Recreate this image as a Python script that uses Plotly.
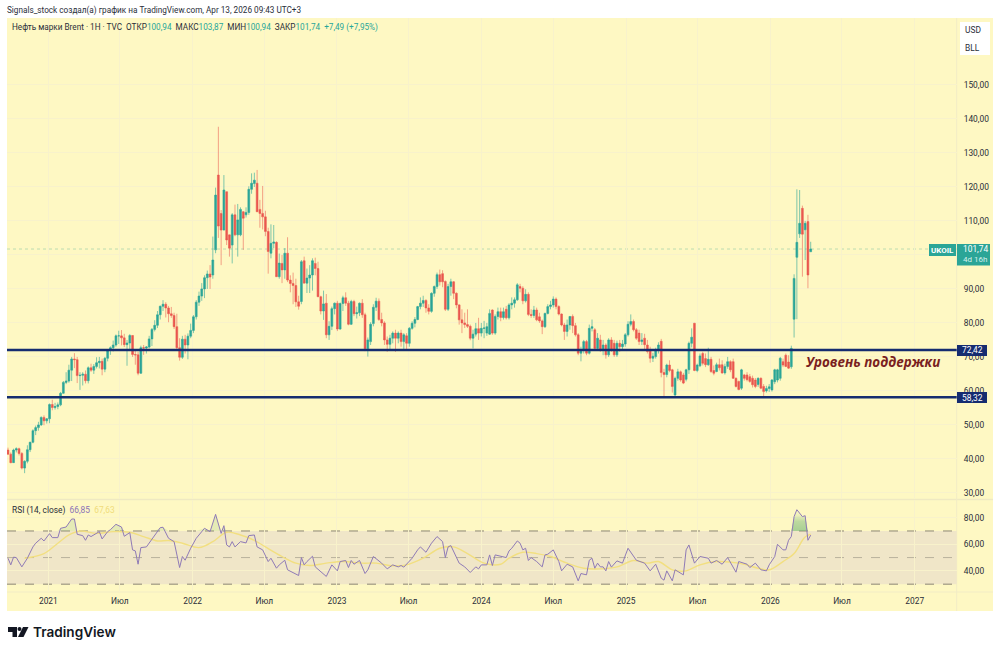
import pandas as pd
import plotly.graph_objects as go

opens = [
42.6,41.4,38.9,42.6,43.0,41.6,37.3,39.3,42.7,44.9,
48.3,49.2,50.0,52.2,51.2,51.8,56.0,55.1,55.4,55.9,
59.3,62.5,62.9,66.1,69.4,69.2,64.5,64.6,64.9,63.0,
66.8,66.1,67.2,68.3,68.7,66.4,69.6,71.9,72.7,73.5,
76.2,76.2,75.6,73.6,74.1,76.3,70.7,70.6,65.2,72.7,
72.6,72.9,75.3,78.1,79.3,82.4,84.9,85.5,84.4,82.7,
82.2,78.9,72.7,69.9,75.2,73.5,76.1,77.8,81.8,86.1,
87.9,90.0,93.3,94.4,94.1,101.5,123.5,112.2,107.3,118.6,
105.9,102.9,111.8,105.9,105.9,112.7,111.8,112.5,119.3,121.0,
121.1,113.4,112.2,111.2,106.9,100.5,103.4,103.7,93.6,97.5,
95.6,100.5,92.6,91.6,91.0,86.2,86.3,98.3,91.7,93.2,
94.1,97.5,96.0,87.7,83.5,85.8,76.5,79.0,84.2,85.8,
78.2,85.7,87.4,85.8,79.6,86.3,82.7,83.0,85.8,82.4,
72.4,74.5,79.8,84.6,86.4,81.0,80.0,75.0,73.7,75.5,
77.0,75.5,77.0,74.5,76.2,74.0,78.4,79.9,81.0,84.8,
85.8,86.6,84.4,83.4,88.7,90.7,94.2,94.5,92.2,84.0,
90.7,92.1,88.7,85.3,80.9,80.0,79.5,79.0,75.5,76.7,
78.3,77.0,78.4,77.0,76.7,83.8,77.0,81.9,83.3,81.6,
84.0,81.5,85.3,85.8,86.8,90.7,90.2,86.5,88.4,82.5,
82.2,83.8,81.8,80.6,78.9,82.8,84.8,85.3,87.0,84.8,
82.6,79.4,77.5,79.4,81.9,79.2,76.5,71.1,72.0,74.5,
71.1,78.4,78.0,72.5,75.0,72.1,73.5,70.6,75.0,74.0,
70.6,74.0,73.0,73.8,76.5,79.6,80.4,78.0,77.0,74.5,
75.5,73.5,72.0,69.6,70.1,72.0,74.6,65.4,64.8,67.6,
66.2,58.8,63.7,65.6,64.7,63.4,66.2,74.0,79.9,66.0,
67.4,71.0,69.5,67.7,69.3,66.0,65.7,67.7,67.7,65.3,
67.2,68.6,68.6,63.7,62.8,60.8,64.7,64.7,64.2,63.7,
63.2,61.9,63.7,61.3,60.0,60.7,60.3,62.7,63.2,63.7,
68.6,70.5,68.5,67.1,81.1,99.3,106.2,113.7,107.4,109.8,
100.94,
]
highs = [
43.3,41.9,43.0,43.4,43.3,42.0,39.6,44.0,45.0,48.7,
49.8,50.9,52.5,52.8,52.0,56.3,57.4,56.5,56.6,59.7,
62.9,65.5,67.7,70.0,71.1,70.0,65.5,65.5,66.0,67.2,
68.0,67.9,69.9,70.0,69.5,70.0,72.1,73.1,74.8,76.6,
77.7,77.9,76.8,75.0,76.7,76.4,72.0,71.5,73.3,73.5,
73.2,76.2,78.5,80.8,83.5,85.1,86.7,86.1,85.0,84.7,
83.0,82.7,75.5,76.2,76.5,76.9,79.8,82.3,86.7,89.2,
91.7,94.0,95.4,97.0,105.4,119.8,137.7,113.2,123.5,118.6,
105.5,112.3,114.8,115.0,114.0,112.9,114.0,120.2,124.0,124.2,
125.0,116.2,120.3,113.0,108.0,109.0,108.8,104.0,100.4,100.0,
102.0,105.2,94.0,94.8,93.0,88.0,98.5,99.5,96.0,97.0,
99.0,99.2,98.0,88.0,89.5,88.5,80.5,84.8,86.0,86.5,
86.0,88.0,89.0,86.5,86.8,86.8,84.8,86.0,87.0,83.0,
75.7,80.2,85.5,87.4,87.2,83.0,80.5,76.0,76.5,77.5,
78.0,77.5,78.0,77.0,77.0,78.8,80.5,81.7,85.0,87.5,
88.0,87.0,85.5,89.0,91.0,94.8,95.7,95.5,92.5,91.5,
93.0,92.3,89.0,85.5,84.0,83.0,84.0,79.5,78.0,80.0,
81.5,80.0,80.6,80.0,84.0,84.0,82.5,84.5,84.5,84.5,
85.0,85.8,87.5,87.5,91.7,91.5,90.8,89.9,89.0,84.0,
85.0,84.5,83.0,81.0,83.0,85.5,86.5,87.8,87.5,85.2,
82.8,80.0,81.0,82.0,82.5,80.0,77.0,73.0,75.0,75.0,
79.5,81.0,78.5,77.0,76.5,75.0,74.0,75.5,75.8,75.0,
74.8,75.0,75.0,77.0,80.5,82.5,81.0,78.5,78.0,77.0,
76.8,75.0,73.0,71.2,72.7,74.3,75.3,66.5,68.0,69.0,
66.5,64.2,66.5,66.0,65.3,66.5,74.5,78.4,80.0,68.0,
71.0,71.5,71.0,72.7,70.0,67.5,68.3,69.5,69.0,68.0,
70.0,69.0,69.5,64.0,63.0,66.5,65.0,65.5,65.0,64.5,
63.8,64.0,64.0,62.0,61.5,62.0,63.5,66.5,66.5,70.0,
69.5,71.0,70.5,73.3,94.3,119.3,119.1,114.5,110.0,111.8,
103.87,
]
lows = [
41.2,38.7,38.9,41.9,41.0,36.9,35.8,38.7,42.0,44.6,
47.0,48.3,49.7,49.9,50.4,50.5,54.3,54.5,54.6,55.5,
59.2,62.0,62.4,62.9,66.7,62.3,60.3,61.6,62.2,62.2,
65.6,65.0,66.6,66.6,64.6,65.5,68.7,70.6,71.6,73.0,
73.8,73.4,72.9,67.4,72.0,70.0,67.7,64.6,65.0,70.6,
71.0,72.5,73.2,77.5,78.5,81.0,83.5,81.6,80.2,81.5,
78.2,72.0,68.9,69.4,71.0,69.3,75.5,77.0,81.0,85.0,
86.5,87.3,90.0,90.0,93.0,100.5,105.0,97.0,107.3,102.9,
99.5,97.5,105.5,99.5,105.5,101.5,111.0,111.8,118.0,120.0,
112.7,108.0,107.5,105.5,94.5,99.0,102.0,93.5,93.0,91.7,
93.0,92.0,89.0,85.5,84.7,83.9,85.5,91.7,88.8,88.8,
89.5,94.0,87.7,82.5,80.9,75.5,75.0,77.9,82.5,77.6,
78.0,83.5,85.0,79.3,79.4,82.0,81.3,82.0,81.5,71.7,
70.1,73.5,79.0,83.5,80.6,79.0,73.5,71.5,72.0,74.0,
71.5,74.0,73.0,72.0,72.0,73.0,78.0,78.7,80.8,84.0,
84.7,83.0,82.5,83.0,87.7,90.0,91.0,90.5,83.5,83.5,
88.0,87.0,84.3,79.5,77.0,78.5,78.5,74.9,72.5,76.0,
75.0,76.0,75.5,76.2,76.5,76.5,76.5,81.0,80.5,81.0,
81.0,81.0,84.0,84.5,86.5,89.0,85.5,86.0,82.0,81.5,
81.5,80.5,80.0,76.7,78.5,82.5,84.0,84.5,84.0,82.2,
79.0,75.0,76.0,78.0,77.0,76.0,70.5,68.7,71.0,70.5,
70.7,77.5,72.0,72.0,71.5,70.5,69.5,70.0,71.5,70.0,
70.0,71.5,72.0,73.0,76.0,79.0,77.5,75.0,73.5,73.5,
72.0,71.0,68.3,68.5,69.5,71.0,64.0,58.3,64.0,65.5,
59.5,58.3,63.0,62.7,62.0,62.8,65.0,72.8,65.8,65.5,
67.0,67.5,67.0,67.4,65.3,64.6,65.5,66.0,65.0,64.8,
66.5,65.5,63.5,61.0,60.2,60.3,63.0,62.8,62.4,61.0,
60.8,61.2,60.5,58.3,59.5,59.7,59.8,62.0,62.5,63.0,
67.0,67.0,66.5,66.5,75.7,81.1,105.0,93.6,98.5,90.2,
100.94,
]
closes = [
41.4,38.9,42.6,43.0,41.6,37.3,39.3,42.7,44.9,48.3,
49.2,50.0,52.2,51.2,51.8,56.0,55.1,55.4,55.9,59.3,
62.5,62.9,66.1,69.4,69.2,64.5,64.6,64.9,63.0,66.8,
66.1,67.2,68.3,68.7,66.4,69.6,71.9,72.7,73.5,76.2,
76.2,75.6,73.6,74.1,76.3,70.7,70.6,65.2,72.7,72.6,
72.9,75.3,78.1,79.3,82.4,84.9,85.5,84.4,82.7,82.2,
78.9,72.7,69.9,75.2,73.5,76.1,77.8,81.8,86.1,87.9,
90.0,93.3,94.4,93.5,98.5,117.6,108.5,107.3,119.1,104.4,
102.0,111.8,105.9,110.3,113.4,110.8,112.5,119.3,121.1,122.0,
112.7,112.2,111.2,106.9,101.0,103.4,103.8,93.6,97.6,95.6,
100.5,92.6,91.6,91.0,86.2,84.9,98.0,91.7,93.2,94.1,
98.3,96.0,87.7,83.5,85.6,76.5,79.0,84.2,85.8,78.2,
85.7,87.4,85.8,79.6,86.3,82.7,83.0,85.8,82.4,72.4,
75.0,79.6,84.6,86.4,81.0,80.0,75.0,73.7,75.5,77.0,
75.5,77.0,74.5,76.5,74.0,78.4,79.9,81.0,84.8,85.8,
86.6,84.4,83.4,88.7,90.7,94.2,92.1,92.1,84.0,90.7,
92.1,88.7,85.3,80.9,80.0,79.5,79.0,75.5,76.7,78.3,
77.0,78.4,78.5,78.9,82.8,77.0,81.9,83.3,81.6,83.3,
81.5,85.3,85.8,86.8,91.2,90.2,86.5,88.4,82.5,82.2,
83.8,80.9,80.6,78.9,82.8,84.8,85.3,87.0,84.8,82.6,
79.4,77.5,79.4,81.9,79.2,76.5,71.1,72.0,74.5,71.1,
78.4,78.9,72.5,75.5,72.1,73.5,70.6,75.0,72.1,70.6,
74.0,73.0,73.8,76.5,79.6,80.4,78.0,75.5,74.5,75.0,
73.6,71.6,69.6,70.2,72.0,73.5,65.4,64.8,67.6,66.0,
61.3,63.7,65.6,63.2,62.3,66.2,74.0,75.8,66.0,67.6,
70.3,68.1,67.7,69.3,65.7,65.2,67.7,66.8,65.3,67.2,
68.6,66.2,63.7,61.3,60.4,66.2,63.7,63.3,62.8,61.8,
61.3,63.7,60.8,59.8,60.7,61.2,63.2,66.2,66.2,69.6,
67.6,67.2,66.7,72.5,93.1,103.7,109.3,106.1,109.3,94.1,
101.74,
]
rsi_weeks = [
0,1,2,3,5,7,9,10,12,13,15,16,18,19,21,23,24,25,27,28,29,30,33,34,36,37,39,41,42,44,
45,46,47,48,50,53,55,56,58,60,61,62,63,64,66,68,71,73,75,77,78,79,80,81,82,84,86,87,89,90,
92,94,95,97,98,100,101,104,105,106,107,108,110,111,113,115,117,119,120,122,123,124,125,127,129,130,132,135,137,139,
141,142,143,146,148,149,151,153,155,157,158,159,160,163,165,167,169,170,171,173,174,175,176,178,180,181,182,184,185,186,
187,188,189,191,193,194,195,197,199,200,202,204,206,207,209,210,211,212,213,214,215,216,217,218,220,222,224,227,230,232,
234,236,237,238,240,241,244,245,246,248,250,253,254,256,258,260,262,263,264,267,268,270,272,274,275,277,278,280,281,282,
283,284,285,287,288,289,290,
]
rsi_values = [
49.5,44.5,50.3,50,43,49.5,58,60.8,64.5,62.5,68,65,65,72,73,79,79,67.5,66.5,63,67,65.8,69.5,64,69.5,71,75,73,66,68.8,
55.8,55,45,57.5,58,67,72.5,72.8,64.5,62,50.8,42.5,50.8,48,57,64.5,72,69.5,82.5,68.2,74,59.5,58,62,58,62,61,66.5,67,58,
55.8,47,49.5,42,44.5,48,40.8,38,36.5,50,44.5,47,51,43,39.5,35.8,44.5,40,47,47.8,42.5,47.8,45,47.8,38,40.8,50.8,45.8,41.5,44.5,
43,44,42.8,49.5,55.8,58,54,60.8,65.8,62,50,58,59,45.8,43,38.8,43,41.5,44.5,44.5,52,44,52,50.8,50,55,57,62.5,60.8,55.8,
57,47.8,50,47,43,52,52.5,55.8,47,40,45,43,32.5,38,37,48,49.5,42,45.8,43,43,40,47,42.8,47.5,45.8,57,48,45.8,40,
45,34.5,33,40,32.5,40.8,37,55.8,59.5,45.8,50.8,49.5,45.8,47.8,45,50,43,39,47,45,42.5,45.8,40.8,40,44.5,50.8,60,55.8,55.8,63,
65.8,80.8,86,80.8,81.5,63,66.85,
]
ma_weeks = [
6,13,18,22,26,32,38,44,49,54,58,63,69,74,79,84,89,93,99,104,109,115,121,128,133,139,144,150,156,161,
166,172,178,181,186,191,196,202,208,214,220,226,231,235,240,245,250,256,264,271,275,280,284,287,288,290,
]
ma_values = [
49.5,53,60.8,67,70,68.2,69.5,69,65.8,62.5,62.8,60.8,57.5,62,69,67,63,58,50.8,45.8,44,45.8,47,45.8,45.8,43.8,44.5,49.5,57,58,
53,45.8,45,49.5,54,53,50.8,45.8,42,41.5,43,47.8,45.8,47,40.8,40,44.5,47,45.8,42,40.8,47,53,63,65.5,67.63,
]
price_ticks = [30,40,50,60,70,80,90,100,110,120,130,140,150]
price_labels = ["30,00","40,00","50,00","60,00","70,00","80,00","90,00","","110,00","120,00","130,00","140,00","150,00"]
rsi_ticks = [40,60,80]
rsi_labels = ["40,00","60,00","80,00"]
time_ticks = ["2021-01-01","2021-07-01","2022-01-01","2022-07-01","2023-01-01","2023-07-01","2024-01-01",
              "2024-07-01","2025-01-01","2025-07-01","2026-01-01","2026-07-01","2027-01-01"]
time_labels = ["2021","Июл","2022","Июл","2023","Июл","2024","Июл","2025","Июл","2026","Июл","2027"]
# where the two drawn levels sit on the price scale in the picture, and the last price
level_upper, level_lower, last_price = 72.05, 58.15, 101.74

W, H = 1000, 652
FONT = "Roboto"
BG = "#fef8c3"
GRID = "#f8f2cb"
UP, DOWN = "#2ba597", "#e9574f"
NAVY = "#152c70"
TXT = "#2a2e39"

def px(x): return x / W
def py(y): return 1 - y / H

start = pd.Timestamp("2020-09-21")
dates = pd.date_range(start, periods=len(closes), freq="7D")
pxperday = 802.7 / 2030
xr = [(start + pd.Timedelta(days=(a - 8) / pxperday)).strftime("%Y-%m-%d %H:%M") for a in (7, 956.7)]

fig = go.Figure()
fig.add_trace(go.Candlestick(
    x=dates, open=opens, high=highs, low=lows, close=closes, whiskerwidth=0,
    increasing=dict(line=dict(color="rgba(43,165,151,0.6)", width=1), fillcolor=UP),
    decreasing=dict(line=dict(color="rgba(233,87,79,0.55)", width=1), fillcolor=DOWN),
    xaxis="x", yaxis="y", showlegend=False, hoverinfo="skip"))

rsi_dates = [dates[w] for w in rsi_weeks]
early = [i for i, w in enumerate(rsi_weeks) if w <= 280]
late = [i for i, w in enumerate(rsi_weeks) if w >= 280]

def band(idx, **fill):
    xs = [rsi_dates[i] for i in idx]
    fig.add_trace(go.Scatter(x=xs, y=[70] * len(xs), xaxis="x2", yaxis="y2", mode="lines",
                             line=dict(width=0), showlegend=False, hoverinfo="skip"))
    fig.add_trace(go.Scatter(x=xs, y=[max(rsi_values[i], 70) for i in idx], xaxis="x2", yaxis="y2", mode="lines",
                             line=dict(width=0), fill="tonexty", showlegend=False, hoverinfo="skip", **fill))

band(early, fillcolor="rgba(130,185,130,0.2)")
band(late, fillgradient=dict(type="vertical", colorscale=[[0, "rgba(110,180,115,0.6)"], [0.45, "rgba(110,180,115,0.45)"],
                                                          [0.75, "rgba(110,180,115,0.1)"], [1, "rgba(110,180,115,0.02)"]]))
fig.add_trace(go.Scatter(x=[dates[w] for w in ma_weeks], y=ma_values, xaxis="x2", yaxis="y2", mode="lines",
                         line=dict(color="#f2df80", width=1.4, shape="spline", smoothing=1), showlegend=False, hoverinfo="skip"))
fig.add_trace(go.Scatter(x=rsi_dates, y=rsi_values, xaxis="x2", yaxis="y2", mode="lines",
                         line=dict(color="#8f7ab6", width=1), showlegend=False, hoverinfo="skip"))

axis_common = dict(type="date", range=xr, tickvals=time_ticks, showgrid=True, gridcolor=GRID, gridwidth=1,
                   zeroline=False, showline=False, rangeslider=dict(visible=False))
pane_y = dict(side="right", showgrid=True, gridcolor=GRID, gridwidth=1, zeroline=False, showline=False,
              tickfont=dict(family=FONT, size=8.4, color=TXT), ticklabelstandoff=6, ticks="")

shapes = [
    dict(type="rect", xref="paper", yref="paper", x0=px(7), x1=px(993), y0=py(611), y1=py(18),
         fillcolor=BG, line=dict(width=0), layer="below"),
    dict(type="line", xref="paper", yref="paper", x0=px(7), x1=px(993), y0=py(499.5), y1=py(499.5),
         line=dict(color="#efe9c2", width=1.5), layer="below"),
    dict(type="line", xref="paper", yref="paper", x0=px(7), x1=px(993), y0=py(592), y1=py(592),
         line=dict(color="#f2ecc6", width=1), layer="below"),
    dict(type="line", xref="paper", yref="paper", x0=px(956.7), x1=px(956.7), y0=py(611), y1=py(18),
         line=dict(color="#f2ecc6", width=1), layer="below"),
    dict(type="rect", xref="x2 domain", yref="y2", x0=0, x1=1, y0=30, y1=70,
         fillcolor="#f0e6c8", line=dict(width=0), layer="below"),
    dict(type="line", xref="x2 domain", yref="y2", x0=0, x1=1, y0=70, y1=70, line=dict(color="#8c8674", width=1, dash="dash"), layer="below"),
    dict(type="line", xref="x2 domain", yref="y2", x0=0, x1=1, y0=50, y1=50, line=dict(color="#b9b29c", width=1, dash="dash"), layer="below"),
    dict(type="line", xref="x2 domain", yref="y2", x0=0, x1=1, y0=30, y1=30, line=dict(color="#8c8674", width=1, dash="dash"), layer="below"),
    dict(type="line", xref="x domain", yref="y", x0=0, x1=1, y0=last_price, y1=last_price,
         line=dict(color="#bcdcb0", width=1, dash="dot"), layer="below"),
    dict(type="line", xref="x domain", yref="y", x0=0, x1=1, y0=level_upper, y1=level_upper, line=dict(color=NAVY, width=2.5)),
    dict(type="line", xref="x domain", yref="y", x0=0, x1=1, y0=level_lower, y1=level_lower, line=dict(color=NAVY, width=2.5)),
    # price tags
    dict(type="rect", xref="paper", yref="paper", x0=px(929), x1=px(956), y0=py(256), y1=py(244), fillcolor=UP, line=dict(width=0)),
    dict(type="rect", xref="paper", yref="paper", x0=px(957), x1=px(990), y0=py(265.5), y1=py(244), fillcolor=UP, line=dict(width=0)),
    dict(type="rect", xref="paper", yref="paper", x0=px(957), x1=px(987), y0=py(356), y1=py(345), fillcolor=NAVY, line=dict(width=0)),
    dict(type="rect", xref="paper", yref="paper", x0=px(957), x1=px(987), y0=py(403), y1=py(392), fillcolor=NAVY, line=dict(width=0)),
    dict(type="rect", xref="paper", yref="paper", x0=px(960), x1=px(990), y0=py(55), y1=py(22), fillcolor="white", line=dict(width=0)),
]

# TradingView mark
def path(points):
    return "M " + " L ".join(f"{px(a):.5f},{py(b):.5f}" for a, b in points) + " Z"
shapes += [
    dict(type="path", xref="paper", yref="paper", path=path([(8, 627), (17, 627), (17, 637), (12.5, 637), (12.5, 632), (8, 632)]), fillcolor="#131722", line=dict(width=0)),
    dict(type="circle", xref="paper", yref="paper", x0=px(17.5), x1=px(21.5), y0=py(631), y1=py(627), fillcolor="#131722", line=dict(width=0)),
    dict(type="path", xref="paper", yref="paper", path=path([(23, 627), (28.5, 627), (23.5, 637), (18, 637)]), fillcolor="#131722", line=dict(width=0)),
]

def note(x, y, text, size=8.2, color=TXT, anchor="left", **font):
    return dict(xref="paper", yref="paper", x=px(x), y=py(y), text=text, showarrow=False, xanchor=anchor, yanchor="middle",
                font=dict(family=font.pop("family", FONT), size=size, color=color, **font), borderpad=0, borderwidth=0)

G = "#26a69a"
legend = ("Нефть марки Brent · 1H · TVC  ОТКР"
          f"<span style='color:{G}'>100,94</span>  МАКС<span style='color:{G}'>103,87</span>  "
          f"МИН<span style='color:{G}'>100,94</span>  ЗАКР<span style='color:{G}'>101,74</span>  "
          f"<span style='color:{G}'>+7,49 (+7,95%)</span>")
rsi_legend = ("RSI (14, close)  <span style='color:#8a72b8'>66,85</span>  <span style='color:#f0dc7a'>67,63</span>")
annotations = [
    note(7, 10, "Signals_stock создал(а) график на TradingView.com, Apr 13, 2026 09:43 UTC+3"),
    note(12, 28, legend),
    note(12, 510, rsi_legend, size=8.4),
    note(931, 250, "UKOIL", color="white", size=8, weight="bold"),
    note(962.5, 249, "101,74", color="white", size=8.4),
    note(962.5, 260, "4d 16h", color="#d5f0ec", size=8),
    note(962, 350.5, "72,42", color="white", size=8.4),
    note(962, 397.5, "58,32", color="white", size=8.4),
    note(965, 30, "USD", size=8.4),
    note(965, 48, "BLL", size=8.4),
    note(806, 362, "Уровень поддержки", size=13.4, color="#7a1f1f", family="Open Sans", weight="bold", style="italic"),
    note(33, 632, "TradingView", size=13.6, color="#131722", weight=600, family="Inter"),
]

fig.update_layout(
    width=W, height=H, margin=dict(l=0, r=0, t=0, b=0), paper_bgcolor="white", plot_bgcolor="rgba(0,0,0,0)",
    showlegend=False, shapes=shapes, annotations=annotations, dragmode=False, boxgap=0.05,
    xaxis=dict(domain=[px(7), px(956.7)], anchor="y", showticklabels=False, **axis_common),
    yaxis=dict(domain=[py(499), py(18)], anchor="x", range=[28.2, 169.7], tickvals=price_ticks, ticktext=price_labels, **pane_y),
    xaxis2=dict(domain=[px(7), px(956.7)], anchor="y2", matches="x", ticktext=time_labels, showticklabels=True,
                tickfont=dict(family=FONT, size=8.4, color=TXT), ticks="", ticklabelstandoff=3, **axis_common),
    yaxis2=dict(domain=[py(592), py(500)], anchor="x2", range=[24.1, 93.3], tickvals=rsi_ticks, ticktext=rsi_labels, **pane_y),
)
fig.write_html("out.html", config=dict(displayModeBar=False), post_script="document.body.style.margin='0';document.documentElement.style.overflow='hidden';")
